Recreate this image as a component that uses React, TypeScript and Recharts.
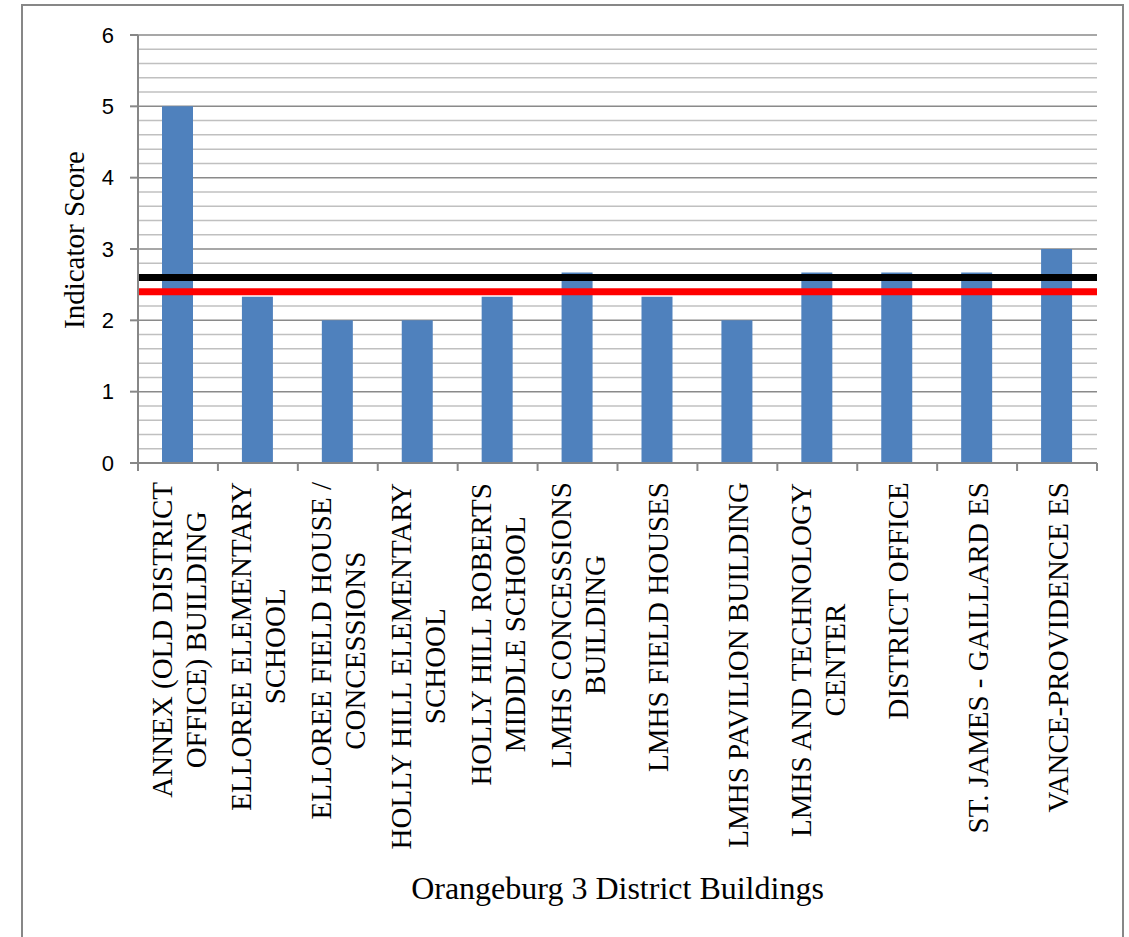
import React from "react";
import { BarChart, Bar, XAxis, YAxis, CartesianGrid, ReferenceLine } from "recharts";

const buildings = [
  "ANNEX (OLD DISTRICT OFFICE) BUILDING",
  "ELLOREE ELEMENTARY SCHOOL",
  "ELLOREE FIELD HOUSE / CONCESSIONS",
  "HOLLY HILL ELEMENTARY SCHOOL",
  "HOLLY HILL ROBERTS MIDDLE SCHOOL",
  "LMHS CONCESSIONS BUILDING",
  "LMHS FIELD HOUSES",
  "LMHS PAVILION BUILDING",
  "LMHS AND TECHNOLOGY CENTER",
  "DISTRICT OFFICE",
  "ST. JAMES - GAILLARD ES",
  "VANCE-PROVIDENCE ES",
];

// how the labels wrap in the picture
const labelLines = [
  ["ANNEX (OLD DISTRICT", "OFFICE) BUILDING"],
  ["ELLOREE ELEMENTARY", "SCHOOL"],
  ["ELLOREE FIELD HOUSE /", "CONCESSIONS"],
  ["HOLLY HILL ELEMENTARY", "SCHOOL"],
  ["HOLLY HILL ROBERTS", "MIDDLE SCHOOL"],
  ["LMHS CONCESSIONS", "BUILDING"],
  ["LMHS FIELD HOUSES"],
  ["LMHS PAVILION BUILDING"],
  ["LMHS AND TECHNOLOGY", "CENTER"],
  ["DISTRICT OFFICE"],
  ["ST. JAMES - GAILLARD ES"],
  ["VANCE-PROVIDENCE ES"],
];

const scores = [5, 2.33, 2, 2, 2.33, 2.67, 2.33, 2, 2.67, 2.67, 2.67, 3];

const blackLineValue = 2.6;
const redLineValue = 2.4;

const yTicks = [0, 1, 2, 3, 4, 5, 6];
const minorTicks = [
  0.2, 0.4, 0.6, 0.8, 1.2, 1.4, 1.6, 1.8, 2.2, 2.4, 2.6, 2.8, 3.2, 3.4, 3.6, 3.8,
  4.2, 4.4, 4.6, 4.8, 5.2, 5.4, 5.6, 5.8,
];

const data = buildings.map((name, i) => ({ name, score: scores[i] }));

const SERIF = '"Liberation Serif", "Times New Roman", serif';
const LABEL_FS = 29;
const LINE_H = 34;
const AXIS_GRAY = "#878787";

let ctx: CanvasRenderingContext2D | null = null;
function textWidth(text: string, font: string) {
  if (!ctx) ctx = document.createElement("canvas").getContext("2d");
  if (!ctx) return text.length * 15;
  ctx.font = font;
  return ctx.measureText(text).width;
}

const BuildingTick = (props: any) => {
  const { x, y, payload, width, visibleTicksCount } = props;
  const i = buildings.indexOf(payload.value);
  const lines = labelLines[i] || [String(payload.value)];
  const bw = width && visibleTicksCount ? width / visibleTicksCount : 80;
  const longest = Math.max(...lines.map((t) => textWidth(t, `${LABEL_FS}px ${SERIF}`)));
  const n = lines.length;
  return (
    <g>
      <line x1={x - bw / 2} x2={x - bw / 2} y1={y} y2={y + 8} stroke={AXIS_GRAY} strokeWidth={2} />
      {i === buildings.length - 1 && (
        <line x1={x + bw / 2} x2={x + bw / 2} y1={y} y2={y + 8} stroke={AXIS_GRAY} strokeWidth={2} />
      )}
      <g transform={`translate(${x + 1}, ${y + 19 + longest / 2}) rotate(-90)`}>
        {lines.map((t, k) => (
          <text
            key={k}
            x={0}
            y={(k - (n - 1) / 2) * LINE_H + 0.33 * LABEL_FS}
            textAnchor="middle"
            fontFamily={SERIF}
            fontSize={LABEL_FS}
            style={{ fontFamily: SERIF }}
            fill="#000"
          >
            {t}
          </text>
        ))}
      </g>
    </g>
  );
};

export default function App() {
  return (
    <div style={{ position: "absolute", left: 0, top: 0, width: 1129, height: 937, overflow: "hidden", background: "#fff" }}>
      <div
        style={{
          position: "absolute",
          left: 21,
          top: 4,
          width: 1103,
          height: 1000,
          border: `2px solid ${AXIS_GRAY}`,
          boxSizing: "border-box",
        }}
      />
      <div style={{ position: "absolute", left: 0, top: 0 }}>
        <BarChart width={1129} height={937} data={data} margin={{ top: 35, right: 32, left: 0, bottom: 0 }}>
          <CartesianGrid vertical={false} horizontalValues={minorTicks} stroke="#c0c0c0" strokeWidth={1.5} />
          <CartesianGrid vertical={false} horizontalValues={yTicks} stroke="#8a8a8a" strokeWidth={1.5} />
          <XAxis
            dataKey="name"
            interval={0}
            height={474}
            tickLine={false}
            tickSize={0}
            tickMargin={0}
            axisLine={{ stroke: AXIS_GRAY, strokeWidth: 2 }}
            tick={<BuildingTick />}
            label={{
              content: (p: any) => {
                const vb = p.viewBox || { x: 138, width: 959 };
                return (
                  <text x={vb.x + vb.width / 2} y={899} textAnchor="middle" fontFamily={SERIF} fontSize={32} fill="#000">
                    Orangeburg 3 District Buildings
                  </text>
                );
              },
            }}
          />
          <YAxis
            width={138}
            domain={[0, 6]}
            ticks={yTicks}
            interval={0}
            tickSize={8}
            tickMargin={16}
            tickLine={{ stroke: AXIS_GRAY, strokeWidth: 2 }}
            axisLine={{ stroke: AXIS_GRAY, strokeWidth: 2 }}
            tick={{ fill: "#000", fontSize: 22, fontFamily: '"Liberation Sans", Arial, sans-serif' }}
            label={{
              content: (p: any) => {
                const vb = p.viewBox || { x: 0, y: 35, height: 428 };
                const cy = vb.y + vb.height / 2 - 9;
                return (
                  <text
                    transform={`translate(84, ${cy}) rotate(-90)`}
                    textAnchor="middle"
                    fontFamily={SERIF}
                    fontSize={29}
                    fill="#000"
                  >
                    Indicator Score
                  </text>
                );
              },
            }}
          />
          <Bar dataKey="score" fill="#4F81BD" barSize={31} isAnimationActive={false} />
          <ReferenceLine y={blackLineValue} stroke="#000000" strokeWidth={7} />
          <ReferenceLine y={redLineValue} stroke="#FF0000" strokeWidth={7} />
        </BarChart>
      </div>
    </div>
  );
}
